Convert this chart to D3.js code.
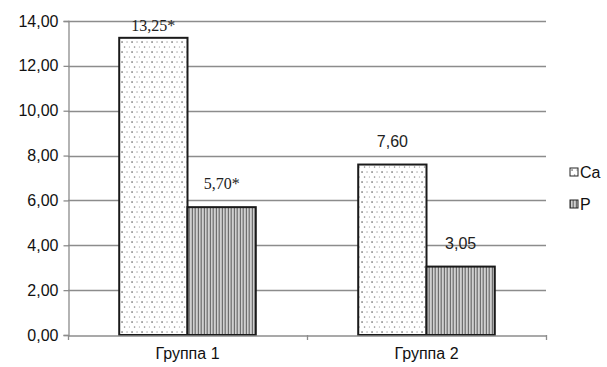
<!DOCTYPE html>
<html>
<head>
<meta charset="utf-8">
<script src="https://cdn.jsdelivr.net/npm/d3@7/dist/d3.min.js"></script>
<style>
  html, body { margin: 0; padding: 0; background: #fff; }
  svg { display: block; }
</style>
</head>
<body>
<svg id="chart" width="607" height="367"></svg>
<script>
// Groups and the two measured series
const categories = ["Группа 1", "Группа 2"];
const seriesNames = ["Ca", "P"];
const caValues = [13.25, 7.60];
const pValues = [5.70, 3.05];
// Values that differ significantly are marked with an asterisk
const caSignificant = [true, false];
const pSignificant = [true, false];
const yTicks = [0, 2, 4, 6, 8, 10, 12, 14];

const svg = d3.select("#chart");
const margin = { left: 68, right: 61, top: 21, bottom: 32 };
const W = 607, H = 367;
const sans = "Liberation Sans, Arial, sans-serif";

const x = d3.scaleBand().domain(categories)
  .range([margin.left, W - margin.right]).paddingInner(0).paddingOuter(0);
const x1 = d3.scaleBand().domain(seriesNames)
  .range([0, x.bandwidth()]).paddingOuter(0.75).paddingInner(0);
const y = d3.scaleLinear().domain([0, 14]).range([H - margin.bottom, margin.top]);

const fmt = v => v.toFixed(2).replace(".", ",");

// Fill patterns: dotted for Ca, fine vertical hatching for P
const defs = svg.append("defs");
const dots = defs.append("pattern").attr("id", "dots")
  .attr("patternUnits", "userSpaceOnUse").attr("width", 10).attr("height", 10);
dots.append("rect").attr("width", 10).attr("height", 10).attr("fill", "#fff");
[[2, 2, "#444"], [7, 2, "#aaa"], [4.5, 7, "#888"], [9.5, 7, "#bbb"]].forEach(([cx, cy, c]) =>
  dots.append("rect").attr("x", cx - 0.6).attr("y", cy - 0.6).attr("width", 1.3).attr("height", 1.3).attr("fill", c));

const stripes = defs.append("pattern").attr("id", "stripes")
  .attr("patternUnits", "userSpaceOnUse").attr("width", 6).attr("height", 6);
stripes.append("rect").attr("width", 6).attr("height", 6).attr("fill", "#d0d0d0");
[[0, "#6e6e6e"], [2, "#a8a8a8"], [3, "#808080"], [5, "#bcbcbc"]].forEach(([sx, c]) =>
  stripes.append("rect").attr("x", sx).attr("y", 0).attr("width", 1).attr("height", 6).attr("fill", c));

const fills = { Ca: "url(#dots)", P: "url(#stripes)" };
const gridColor = "#8c8c8c";

// Horizontal gridlines
svg.append("g").selectAll("line").data(yTicks.filter(d => d > 0)).join("line")
  .attr("x1", margin.left).attr("x2", W - margin.right)
  .attr("y1", d => Math.round(y(d)) + 0.5).attr("y2", d => Math.round(y(d)) + 0.5)
  .attr("stroke", gridColor).attr("stroke-width", 1.3);

// Left axis
const yAxis = svg.append("g").attr("transform", `translate(${margin.left + 0.5},0)`)
  .call(d3.axisLeft(y).tickValues(yTicks).tickFormat(fmt).tickSize(5).tickPadding(5));
yAxis.select(".domain").attr("stroke", gridColor).attr("stroke-width", 1.3);
yAxis.selectAll(".tick line").attr("stroke", gridColor).attr("stroke-width", 1.3);
yAxis.selectAll("text").attr("font-family", sans)
  .attr("font-size", 16).attr("fill", "#111");

// Bars
const rows = categories.flatMap((c, i) => [
  { cat: c, key: "Ca", value: caValues[i], sig: caSignificant[i] },
  { cat: c, key: "P", value: pValues[i], sig: pSignificant[i] }
]);
svg.append("g").selectAll("rect").data(rows).join("rect")
  .attr("x", d => x(d.cat) + x1(d.key))
  .attr("y", d => y(d.value))
  .attr("width", x1.bandwidth())
  .attr("height", d => y(0) - y(d.value))
  .attr("fill", d => fills[d.key])
  .attr("stroke", "#1a1a1a").attr("stroke-width", 2);

// Bottom axis
const xAxis = svg.append("g").attr("transform", `translate(0,${Math.round(y(0)) + 0.5})`)
  .call(d3.axisBottom(x).tickSize(0).tickPadding(12));
xAxis.select(".domain").attr("stroke", gridColor).attr("stroke-width", 1.3);
xAxis.selectAll("text").attr("font-family", sans)
  .attr("font-size", 16).attr("fill", "#111");
svg.append("g").selectAll("line")
  .data([margin.left, x(categories[1]), W - margin.right]).join("line")
  .attr("x1", d => d + 0.5).attr("x2", d => d + 0.5)
  .attr("y1", y(0)).attr("y2", y(0) + 5)
  .attr("stroke", gridColor).attr("stroke-width", 1.3);

// Value labels
svg.append("g").selectAll("text").data(rows).join("text")
  .attr("x", d => x(d.cat) + x1(d.key) + x1.bandwidth() / 2)
  .attr("y", d => Math.max(y(d.value) - 18, margin.top + 10))
  .attr("text-anchor", "middle")
  .attr("font-family", d => d.sig ? "Liberation Serif, Times New Roman, serif" : sans)
  .attr("font-size", d => d.sig ? 16 : 16)
  .attr("fill", "#222")
  .text(d => fmt(d.value) + (d.sig ? "*" : ""));

// Legend
const legend = svg.append("g").attr("transform", "translate(570,168)");
seriesNames.forEach((s, i) => {
  const g = legend.append("g").attr("transform", `translate(0,${i * 32})`);
  g.append("rect").attr("x", 0).attr("y", 0).attr("width", 8).attr("height", 8)
    .attr("fill", fills[s]).attr("stroke", "#222").attr("stroke-width", 1);
  g.append("text").attr("x", 10).attr("y", 10)
    .attr("font-family", sans).attr("font-size", 16)
    .attr("fill", "#111").text(s);
});
</script>
</body>
</html>
